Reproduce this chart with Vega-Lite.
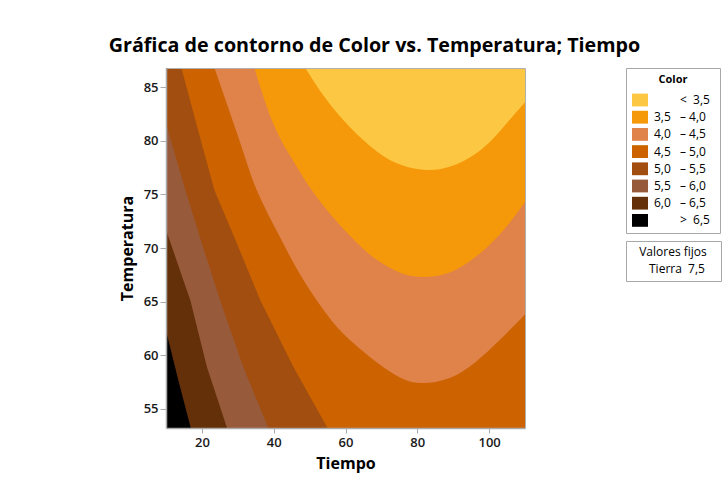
{
  "$schema": "https://vega.github.io/schema/vega-lite/v6.json",
  "width": 359,
  "height": 360,
  "autosize": {"type": "none"},
  "padding": {"left": 166, "top": 68, "right": 200, "bottom": 61},
  "background": "white",
  "title": {
    "text": "Gráfica de contorno de Color vs. Temperatura; Tiempo",
    "font": "Open Sans",
    "fontSize": 19.7,
    "fontWeight": "bold",
    "color": "#000000",
    "anchor": "middle",
    "dx": 29,
    "offset": 12
  },
  "datasets": {
    "contornos": [
      {"band": "5,0 – 5,5", "Tiempo": 10, "Temperatura": 86.8},
      {"band": "5,0 – 5,5", "Tiempo": 14.3, "Temperatura": 86.8},
      {"band": "5,0 – 5,5", "Tiempo": 18.7, "Temperatura": 81.3},
      {"band": "5,0 – 5,5", "Tiempo": 23.5, "Temperatura": 75.4},
      {"band": "5,0 – 5,5", "Tiempo": 29.9, "Temperatura": 70.3},
      {"band": "5,0 – 5,5", "Tiempo": 36.3, "Temperatura": 65.1},
      {"band": "5,0 – 5,5", "Tiempo": 45.5, "Temperatura": 58.9},
      {"band": "5,0 – 5,5", "Tiempo": 55.0, "Temperatura": 53.2},
      {"band": "5,5 – 6,0", "Tiempo": 10, "Temperatura": 81.6},
      {"band": "5,5 – 6,0", "Tiempo": 15.4, "Temperatura": 75.4},
      {"band": "5,5 – 6,0", "Tiempo": 20.1, "Temperatura": 70.3},
      {"band": "5,5 – 6,0", "Tiempo": 25.1, "Temperatura": 65.1},
      {"band": "5,5 – 6,0", "Tiempo": 31.5, "Temperatura": 58.9},
      {"band": "5,5 – 6,0", "Tiempo": 38.5, "Temperatura": 53.2},
      {"band": "6,0 – 6,5", "Tiempo": 10, "Temperatura": 71.7},
      {"band": "6,0 – 6,5", "Tiempo": 13.4, "Temperatura": 68.4},
      {"band": "6,0 – 6,5", "Tiempo": 16.8, "Temperatura": 65.1},
      {"band": "6,0 – 6,5", "Tiempo": 21.4, "Temperatura": 58.9},
      {"band": "6,0 – 6,5", "Tiempo": 27.0, "Temperatura": 53.2},
      {"band": "> 6,5", "Tiempo": 10, "Temperatura": 62.3},
      {"band": "> 6,5", "Tiempo": 13.4, "Temperatura": 57.7},
      {"band": "> 6,5", "Tiempo": 16.9, "Temperatura": 53.2},
      {"band": "4,0 – 4,5", "Tiempo": 23.5, "Temperatura": 86.8},
      {"band": "4,0 – 4,5", "Tiempo": 30.7, "Temperatura": 79.8},
      {"band": "4,0 – 4,5", "Tiempo": 35.3, "Temperatura": 75.4},
      {"band": "4,0 – 4,5", "Tiempo": 41.3, "Temperatura": 71.3},
      {"band": "4,0 – 4,5", "Tiempo": 47.4, "Temperatura": 67.5},
      {"band": "4,0 – 4,5", "Tiempo": 53.5, "Temperatura": 64.4},
      {"band": "4,0 – 4,5", "Tiempo": 59.4, "Temperatura": 62.0},
      {"band": "4,0 – 4,5", "Tiempo": 67.7, "Temperatura": 59.6},
      {"band": "4,0 – 4,5", "Tiempo": 75.3, "Temperatura": 57.9},
      {"band": "4,0 – 4,5", "Tiempo": 81.7, "Temperatura": 57.4},
      {"band": "4,0 – 4,5", "Tiempo": 89.2, "Temperatura": 57.9},
      {"band": "4,0 – 4,5", "Tiempo": 96.0, "Temperatura": 59.3},
      {"band": "4,0 – 4,5", "Tiempo": 102.0, "Temperatura": 61.1},
      {"band": "4,0 – 4,5", "Tiempo": 110, "Temperatura": 63.8},
      {"band": "3,5 – 4,0", "Tiempo": 34.6, "Temperatura": 86.8},
      {"band": "3,5 – 4,0", "Tiempo": 39.9, "Temperatura": 81.6},
      {"band": "3,5 – 4,0", "Tiempo": 45.5, "Temperatura": 78.1},
      {"band": "3,5 – 4,0", "Tiempo": 51.0, "Temperatura": 75.2},
      {"band": "3,5 – 4,0", "Tiempo": 58.0, "Temperatura": 72.3},
      {"band": "3,5 – 4,0", "Tiempo": 65.0, "Temperatura": 69.9},
      {"band": "3,5 – 4,0", "Tiempo": 70.5, "Temperatura": 68.5},
      {"band": "3,5 – 4,0", "Tiempo": 76.0, "Temperatura": 67.6},
      {"band": "3,5 – 4,0", "Tiempo": 81.7, "Temperatura": 67.3},
      {"band": "3,5 – 4,0", "Tiempo": 88.0, "Temperatura": 67.6},
      {"band": "3,5 – 4,0", "Tiempo": 93.9, "Temperatura": 68.6},
      {"band": "3,5 – 4,0", "Tiempo": 99.5, "Temperatura": 70.1},
      {"band": "3,5 – 4,0", "Tiempo": 105.1, "Temperatura": 72.1},
      {"band": "3,5 – 4,0", "Tiempo": 110, "Temperatura": 74.3},
      {"band": "< 3,5", "Tiempo": 48.8, "Temperatura": 86.8},
      {"band": "< 3,5", "Tiempo": 53.5, "Temperatura": 84.4},
      {"band": "< 3,5", "Tiempo": 59.5, "Temperatura": 81.9},
      {"band": "< 3,5", "Tiempo": 66.9, "Temperatura": 79.5},
      {"band": "< 3,5", "Tiempo": 74.3, "Temperatura": 77.9},
      {"band": "< 3,5", "Tiempo": 81.8, "Temperatura": 77.3},
      {"band": "< 3,5", "Tiempo": 89.2, "Temperatura": 77.6},
      {"band": "< 3,5", "Tiempo": 97.5, "Temperatura": 79.1},
      {"band": "< 3,5", "Tiempo": 104.0, "Temperatura": 81.3},
      {"band": "< 3,5", "Tiempo": 110, "Temperatura": 83.6}
    ],
    "fijos": [
      {"fijo": "Tierra 7,5", "Tiempo": 60, "Temperatura": 70}
    ]
  },
  "data": {"name": "contornos"},
  "layer": [
    {
      "transform": [{"filter": "datum.band == '5,0 – 5,5'"}],
      "mark": {"type": "area", "interpolate": "linear", "clip": true},
      "encoding": {
        "x": {"field": "Tiempo", "type": "quantitative", "scale": {"domain": [10, 110], "nice": false, "zero": false},
              "axis": {"title": "Tiempo", "values": [20, 40, 60, 80, 100], "titlePadding": 6, "labelPadding": 3, "tickSize": 5, "zindex": 1}},
        "y": {"field": "Temperatura", "type": "quantitative", "stack": null, "scale": {"domain": [53.2, 86.8], "nice": false, "zero": false},
              "axis": {"title": "Temperatura", "values": [55, 60, 65, 70, 75, 80, 85], "titlePadding": 8, "labelPadding": 2, "tickSize": 6, "zindex": 1}},
        "y2": {"datum": 53.2},
        "color": {
          "field": "band", "type": "nominal",
          "scale": {
            "domain": ["< 3,5", "3,5 – 4,0", "4,0 – 4,5", "4,5 – 5,0", "5,0 – 5,5", "5,5 – 6,0", "6,0 – 6,5", "> 6,5"],
            "range": ["#FCC843", "#F5980A", "#E0834A", "#CC6300", "#A24E10", "#975B3C", "#64300A", "#000000"]
          },
          "legend": {
            "title": "Color",
            "titleFontSize": 11,
            "titleFontWeight": "bold",
            "titleAnchor": "middle",
            "titlePadding": 7,
            "symbolType": "M-1,-0.8H1V0.8H-1Z",
            "symbolSize": 256,
            "symbolStrokeWidth": 0,
            "labelOffset": 6,
            "rowPadding": 2.2,
            "padding": 6,
            "labelExpr": "(indexof(datum.label, '–') >= 0 ? replace(datum.label, ' – ', '\u2002\u00a0–\u00a0') : '\u200b\u2007\u2008\u2007\u2002\u00a0' + replace(datum.label, ' ', '\u00a0\u00a0')) + '\u00a0\u200b'"
          }
        }
      }
    },
    {
      "transform": [{"filter": "datum.band == '5,5 – 6,0'"}],
      "mark": {"type": "area", "interpolate": "linear", "clip": true},
      "encoding": {
        "x": {"field": "Tiempo", "type": "quantitative", "axis": null},
        "y": {"field": "Temperatura", "type": "quantitative", "stack": null, "axis": null},
        "y2": {"datum": 53.2},
        "color": {"field": "band", "type": "nominal"}
      }
    },
    {
      "transform": [{"filter": "datum.band == '6,0 – 6,5'"}],
      "mark": {"type": "area", "interpolate": "linear", "clip": true},
      "encoding": {
        "x": {"field": "Tiempo", "type": "quantitative", "axis": null},
        "y": {"field": "Temperatura", "type": "quantitative", "stack": null, "axis": null},
        "y2": {"datum": 53.2},
        "color": {"field": "band", "type": "nominal"}
      }
    },
    {
      "transform": [{"filter": "datum.band == '> 6,5'"}],
      "mark": {"type": "area", "interpolate": "linear", "clip": true},
      "encoding": {
        "x": {"field": "Tiempo", "type": "quantitative", "axis": null},
        "y": {"field": "Temperatura", "type": "quantitative", "stack": null, "axis": null},
        "y2": {"datum": 53.2},
        "color": {"field": "band", "type": "nominal"}
      }
    },
    {
      "transform": [{"filter": "datum.band == '4,0 – 4,5'"}],
      "mark": {"type": "area", "interpolate": "natural", "clip": true},
      "encoding": {
        "x": {"field": "Tiempo", "type": "quantitative", "axis": null},
        "y": {"field": "Temperatura", "type": "quantitative", "stack": null, "axis": null},
        "y2": {"datum": 86.8},
        "color": {"field": "band", "type": "nominal"}
      }
    },
    {
      "transform": [{"filter": "datum.band == '3,5 – 4,0'"}],
      "mark": {"type": "area", "interpolate": "natural", "clip": true},
      "encoding": {
        "x": {"field": "Tiempo", "type": "quantitative", "axis": null},
        "y": {"field": "Temperatura", "type": "quantitative", "stack": null, "axis": null},
        "y2": {"datum": 86.8},
        "color": {"field": "band", "type": "nominal"}
      }
    },
    {
      "transform": [{"filter": "datum.band == '< 3,5'"}],
      "mark": {"type": "area", "interpolate": "natural", "clip": true},
      "encoding": {
        "x": {"field": "Tiempo", "type": "quantitative",
              "axis": {"orient": "top", "labels": false, "ticks": false, "title": null, "zindex": 1, "domainWidth": 1, "domainColor": "#b0b0b0"}},
        "y": {"field": "Temperatura", "type": "quantitative", "stack": null,
              "axis": {"orient": "right", "labels": false, "ticks": false, "title": null, "zindex": 1, "domainWidth": 1, "domainColor": "#b0b0b0"}},
        "y2": {"datum": 86.8},
        "color": {"field": "band", "type": "nominal"}
      }
    },
    {
      "data": {"name": "fijos"},
      "mark": {"type": "point", "opacity": 0},
      "encoding": {
        "x": {"field": "Tiempo", "type": "quantitative", "axis": null},
        "y": {"field": "Temperatura", "type": "quantitative", "axis": null},
        "shape": {
          "field": "fijo", "type": "nominal",
          "legend": {
            "title": "Valores fijos",
            "titleFontSize": 12,
            "titleFontWeight": "normal",
            "titleAnchor": "middle",
            "titlePadding": 4,
            "symbolSize": 100,
            "symbolOpacity": 0,
            "symbolStrokeWidth": 0,
            "labelOffset": 5,
            "padding": 6,
            "labelExpr": "replace(datum.label, ' ', '\u00a0\u00a0') + '\u00a0\u00a0\u00a0\u200b'"
          }
        }
      }
    }
  ],
  "resolve": {"axis": {"x": "independent", "y": "independent"}},
  "config": {
    "font": "Open Sans",
    "view": {"fill": "#CC6300", "stroke": null},
    "axis": {
      "labelFont": "Open Sans",
      "labelFontSize": 13,
      "labelFontWeight": 600,
      "labelColor": "#1a1a1a",
      "titleFont": "Open Sans",
      "titleFontSize": 16,
      "titleFontWeight": "bold",
      "titleColor": "#000000",
      "domainColor": "#aaaaaa",
      "domainWidth": 1.5,
      "tickColor": "#aaaaaa",
      "grid": false
    },
    "legend": {
      "orient": "right",
      "offset": 101,
      "labelFont": "Open Sans",
      "titleFont": "Open Sans",
      "labelFontSize": 12,
      "labelColor": "#000000",
      "titleColor": "#000000",
      "strokeColor": "#a8a8a8",
      "fillColor": "white",
      "cornerRadius": 0
    }
  }
}
